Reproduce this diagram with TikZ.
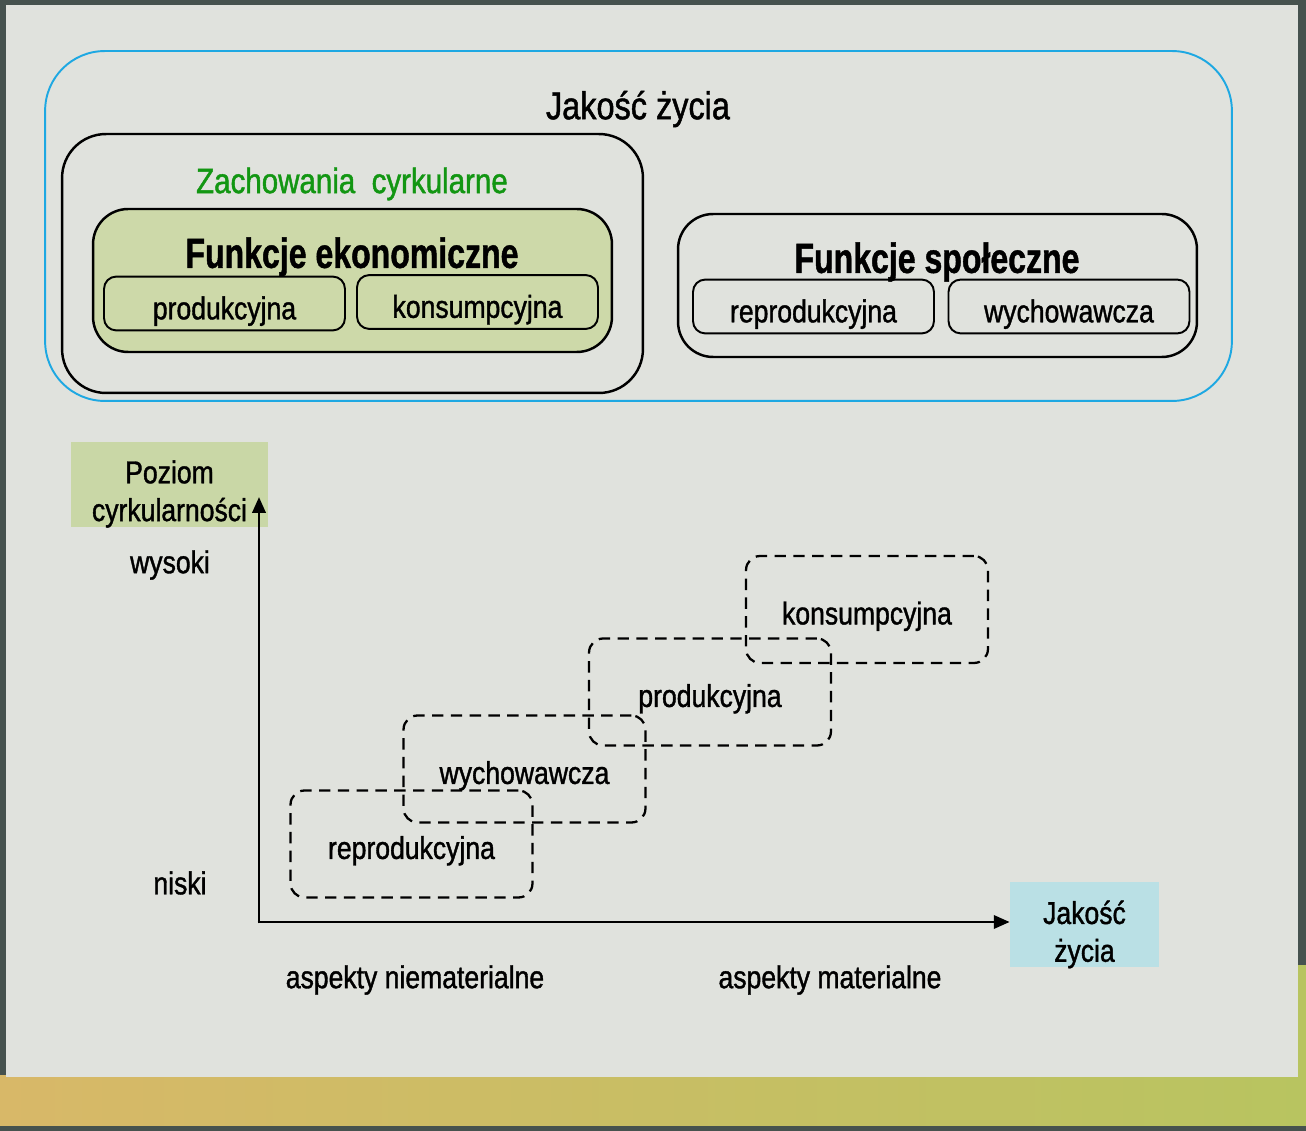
\documentclass[tikz,border=0pt]{standalone}
\usepackage{fontspec}
\setmainfont{Liberation Sans}[FakeStretch=0.84,FakeBold=1.2]
\newfontfamily\headfont{Liberation Sans}[FakeStretch=0.76,FakeBold=1]
\usetikzlibrary{arrows.meta}
\definecolor{frameblue}{RGB}{30,168,226}
\definecolor{circgreen}{RGB}{18,150,18}
\definecolor{olivefill}{RGB}{205,217,169}
\definecolor{levelfill}{RGB}{201,215,166}
\definecolor{lifefill}{RGB}{186,224,229}
\definecolor{panel}{RGB}{224,226,221}
\definecolor{edgegray}{RGB}{70,82,78}
\definecolor{stripgold}{RGB}{216,184,104}
\definecolor{stripgreen}{RGB}{184,196,96}
\begin{document}
\begin{tikzpicture}[x=0.02cm,y=-0.02cm,
  lbl/.style={font=\fontsize{18}{21.5}\selectfont,align=center},
  fbox/.style={draw,line width=1.1pt,rounded corners=7pt,minimum width=4.82cm,minimum height=1.06cm,
    text height=21pt,text depth=3pt,lbl},
  dbox/.style={draw,line width=1.3pt,dash pattern=on 6.5pt off 4.2pt,rounded corners=8pt,
    minimum width=4.84cm,minimum height=2.14cm,text height=20pt,text depth=3pt,lbl},
  axis/.style={line width=1.6pt,-{Triangle[length=9pt,width=7.5pt]}}]
\useasboundingbox (0,0) rectangle (1306,1131);

% Background
\fill[edgegray] (0,0) rectangle (1306,1131);
\shade[left color=stripgold,right color=stripgreen] (0,1075) rectangle (1306,1125);
\fill[stripgreen] (1298,965) rectangle (1306,1125);
\fill[panel] (6,5) rectangle (1298,1077);

% Upper part
\node[draw=frameblue,line width=1.1pt,rounded corners=34pt,minimum width=23.74cm,minimum height=7cm] (life) at (638.5,226) {};
\node[font=\fontsize{22}{24}\selectfont] (lifeT) at (638,109) {Jakość życia};

\node[draw,line width=1.4pt,rounded corners=25pt,minimum width=11.62cm,minimum height=5.18cm] (circ) at (352.5,263.5) {};
\node[font=\fontsize{20}{22}\selectfont,text=circgreen] (circT) at (352,184) {Zachowania\ \ cyrkularne};

\node[draw,fill=olivefill,line width=1.4pt,rounded corners=20pt,minimum width=10.38cm,minimum height=2.86cm] (eco) at (352.5,280.5) {};
\node[font=\headfont\bfseries\fontsize{24}{26}\selectfont] (ecoT) at (352,257) {Funkcje ekonomiczne};
\node[fbox] (prodA) at (224.5,303.5) {produkcyjna};
\node[fbox] (konsA) at (477.5,302) {konsumpcyjna};

\node[draw,line width=1.4pt,rounded corners=20pt,minimum width=10.38cm,minimum height=2.86cm] (soc) at (937.5,285.5) {};
\node[font=\headfont\bfseries\fontsize{24}{26}\selectfont] (socT) at (937,262) {Funkcje społeczne};
\node[fbox] (reproA) at (813.5,306.5) {reprodukcyjna};
\node[fbox] (wychA) at (1069,306.5) {wychowawcza};

% Chart
\node[fill=levelfill,minimum width=3.94cm,minimum height=1.7cm] (level) at (169.5,484.5) {};
\node[lbl] (levelT) at (169.5,494) {Poziom\\cyrkularności};
\node[fill=lifefill,minimum width=2.98cm,minimum height=1.7cm] (quality) at (1084.5,924.5) {};
\node[lbl] (qualityT) at (1084.5,934.5) {Jakość\\życia};
\coordinate (origin) at (259,922);
\coordinate (ytip) at (259,497);
\draw[axis] ([yshift=-0.8pt]origin) -- (ytip);
\draw[axis] ([xshift=-0.8pt]origin) -- (origin -| quality.west);

\node[lbl] (high) at (170,565) {wysoki};
\node[lbl] (low) at (180,883) {niski};
\node[lbl] (immat) at (415,980) {aspekty niematerialne};
\node[lbl] (mat) at (830,980) {aspekty materialne};

% Dashed steps
\node[dbox] (reproB) at (411.5,844) {reprodukcyjna};
\node[dbox] (wychB) at (524.5,769) {wychowawcza};
\node[dbox] (prodB) at (710,692) {produkcyjna};
\node[dbox] (konsB) at (867,609.5) {konsumpcyjna};
\end{tikzpicture}
\end{document}
